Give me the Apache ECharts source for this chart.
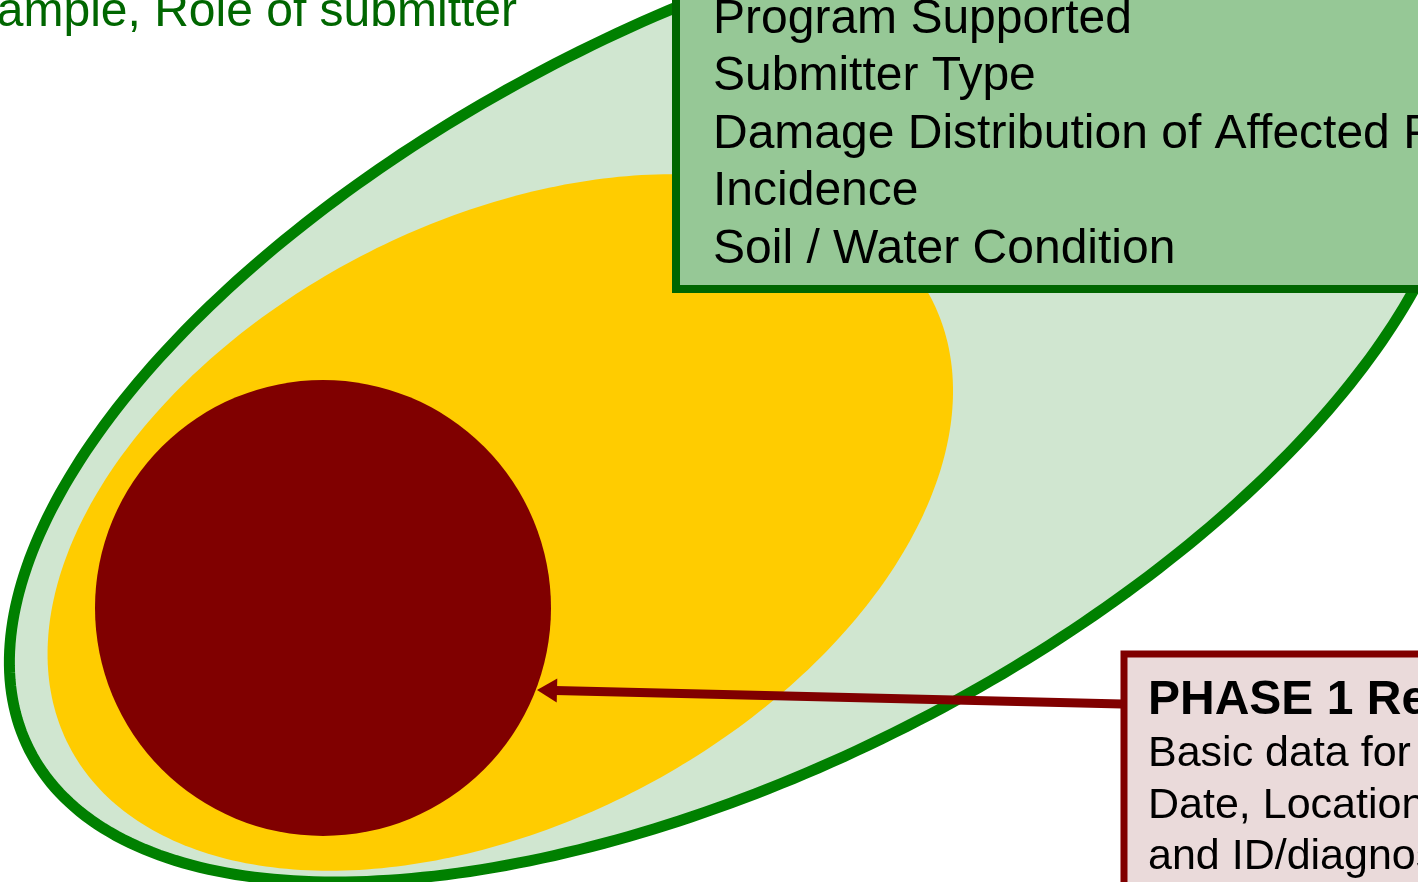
<!DOCTYPE html>
<html>
<head>
<meta charset="utf-8">
<script src="https://cdn.jsdelivr.net/npm/echarts@6/dist/echarts.min.js"></script>
<style>
html,body{margin:0;padding:0;background:#fff;}
#chart{width:1418px;height:882px;}
</style>
</head>
<body>
<div id="chart"></div>
<script>
// ---- data (diagram units = pixels of the reference) ----
const outerEdgePoints = [[67,477],[133,400],[200,320],[317,207],[500,93],[676,8],[56,500],[13,650],[35,780],[100,833],[200,863],[367,877],[700,814],[833,757],[967,700],[1150,577],[1410,292]];
const middleEdgePoints = [[102,480],[200,367],[333,277],[500,198],[657,174],[927,293],[953,393],[940,483],[897,560],[783,690],[700,750],[533,842],[367,867],[200,848],[47,650]];
const coreCircle = [323, 608, 228];
const arrowPath = [[1122,704],[537,690]];
const greenBoxRect = [676, -30, 1440, 289];
const redBoxRect = [1124, 654, 1440, 900];
const topLeftText = 'Sample, Role of submitter';
const greenBoxLines = ['Program Supported','Submitter Type','Damage Distribution of Affected Plants','Incidence','Soil / Water Condition'];
const redBoxTitle = 'PHASE 1 Required Data';
const redBoxLines = ['Basic data for all samples:','Date, Location, Host','and ID/diagnosis'];

// ---- ellipse fit (algebraic least squares) through the read edge points ----
function solve(M, v) {
  const n = v.length; const a = M.map((r,i)=>r.concat([v[i]]));
  for (let i=0;i<n;i++){
    let p=i; for(let k=i+1;k<n;k++) if(Math.abs(a[k][i])>Math.abs(a[p][i])) p=k;
    [a[i],a[p]]=[a[p],a[i]];
    for(let k=i+1;k<n;k++){const f=a[k][i]/a[i][i]; for(let j=i;j<=n;j++) a[k][j]-=f*a[i][j];}
  }
  const x=new Array(n).fill(0);
  for(let i=n-1;i>=0;i--){let s=a[i][n]; for(let j=i+1;j<n;j++) s-=a[i][j]*x[j]; x[i]=s/a[i][i];}
  return x;
}
function fitEllipse(pts){
  let mx=0,my=0; pts.forEach(p=>{mx+=p[0];my+=p[1];}); mx/=pts.length; my/=pts.length;
  const s=100; const M=[...Array(5)].map(()=>[0,0,0,0,0]); const v=[0,0,0,0,0];
  pts.forEach(p=>{const X=(p[0]-mx)/s,Y=(p[1]-my)/s; const r=[X*Y,Y*Y,X,Y,1]; const b=-X*X;
    for(let i=0;i<5;i++){for(let j=0;j<5;j++) M[i][j]+=r[i]*r[j]; v[i]+=r[i]*b;}});
  const [B,C,D,E,F]=solve(M,v); const A=1;
  const det=4*A*C-B*B;
  const xc=(B*E-2*C*D)/det, yc=(B*D-2*A*E)/det;
  const F0=A*xc*xc+B*xc*yc+C*yc*yc+D*xc+E*yc+F;
  const th=0.5*Math.atan2(B,A-C);
  const R=Math.sqrt(((A-C)/2)**2+(B/2)**2);
  const la=(A+C)/2+R, lb=(A+C)/2-R;
  return [mx+xc*s, my+yc*s, Math.sqrt(-F0/la)*s, Math.sqrt(-F0/lb)*s, th];
}
const ellipseData = [fitEllipse(outerEdgePoints), fitEllipse(middleEdgePoints)];
const ellipseStyles = [
  {fill:'#D0E6D0', stroke:'#008000', lineWidth:11},
  {fill:'#FFCC00', stroke:null, lineWidth:0}
];
const FONT = '"Liberation Sans", Arial, Helvetica, sans-serif';

const textItems = [{value:[517, 13], t:topLeftText, size:48, weight:'normal', color:'#006600', align:'right'}]
  .concat(greenBoxLines.map((t,i)=>({value:[713, 19.5+i*57.5], t:t, size:48, weight:'normal', color:'#000', align:'left'})))
  .concat([{value:[1148, 700.5], t:redBoxTitle, size:48, weight:'bold', color:'#000', align:'left'}])
  .concat(redBoxLines.map((t,i)=>({value:[1148, 754.5+i*51.5], t:t, size:43, weight:'normal', color:'#000', align:'left'})));

const chart = echarts.init(document.getElementById('chart'));
chart.setOption({
  animation:false,
  backgroundColor:'#ffffff',
  grid:{left:0,right:0,top:0,bottom:0},
  xAxis:{type:'value',min:0,max:1418,show:false},
  yAxis:{type:'value',min:0,max:882,inverse:true,show:false},
  series:[
    {type:'custom', z:1, data:ellipseData, renderItem:function(params, api){
      const cx=api.value(0), cy=api.value(1), ra=api.value(2), rb=api.value(3), th=api.value(4);
      const pts=[]; const N=360;
      for(let i=0;i<N;i++){const t=i/N*2*Math.PI;
        pts.push(api.coord([cx+ra*Math.cos(t)*Math.cos(th)-rb*Math.sin(t)*Math.sin(th), cy+ra*Math.cos(t)*Math.sin(th)+rb*Math.sin(t)*Math.cos(th)]));}
      const st=ellipseStyles[params.dataIndex];
      return {type:'polygon', shape:{points:pts}, style:{fill:st.fill, stroke:st.stroke, lineWidth:st.lineWidth}};
    }},
    {type:'custom', z:2, data:[coreCircle], renderItem:function(params, api){
      const c=api.coord([api.value(0),api.value(1)]); const r=api.size([api.value(2),0])[0];
      return {type:'circle', shape:{cx:c[0],cy:c[1],r:r}, style:{fill:'#800000'}};
    }},
    {type:'custom', z:3, data:[arrowPath[0].concat(arrowPath[1])], renderItem:function(params, api){
      const a=api.coord([api.value(0),api.value(1)]), b=api.coord([api.value(2),api.value(3)]);
      const dx=b[0]-a[0], dy=b[1]-a[1], L=Math.hypot(dx,dy), ux=dx/L, uy=dy/L;
      const hl=20, hw=12; const base=[b[0]-ux*hl, b[1]-uy*hl];
      return {type:'group', children:[
        {type:'line', shape:{x1:a[0],y1:a[1],x2:base[0]+ux*2,y2:base[1]+uy*2}, style:{stroke:'#800000', lineWidth:9}},
        {type:'polygon', shape:{points:[b,[base[0]-uy*hw, base[1]+ux*hw],[base[0]+uy*hw, base[1]-ux*hw]]}, style:{fill:'#800000'}}
      ]};
    }},
    {type:'custom', z:4, data:[greenBoxRect, redBoxRect], renderItem:function(params, api){
      const p0=api.coord([api.value(0),api.value(1)]), p1=api.coord([api.value(2),api.value(3)]);
      const st = params.dataIndex===0 ? {fill:'#96C896', stroke:'#006600', lineWidth:8} : {fill:'#EADADA', stroke:'#800000', lineWidth:7};
      return {type:'rect', shape:{x:p0[0],y:p0[1],width:p1[0]-p0[0],height:p1[1]-p0[1]}, style:st};
    }},
    {type:'custom', z:5, data:textItems.map(o=>o.value), renderItem:function(params, api){
      const o=textItems[params.dataIndex]; const p=api.coord([api.value(0),api.value(1)]);
      return {type:'text', x:p[0], y:p[1], style:{text:o.t, fill:o.color, font:o.weight+' '+o.size+'px '+FONT, align:o.align, verticalAlign:'middle'}};
    }}
  ]
});
</script>
</body>
</html>
